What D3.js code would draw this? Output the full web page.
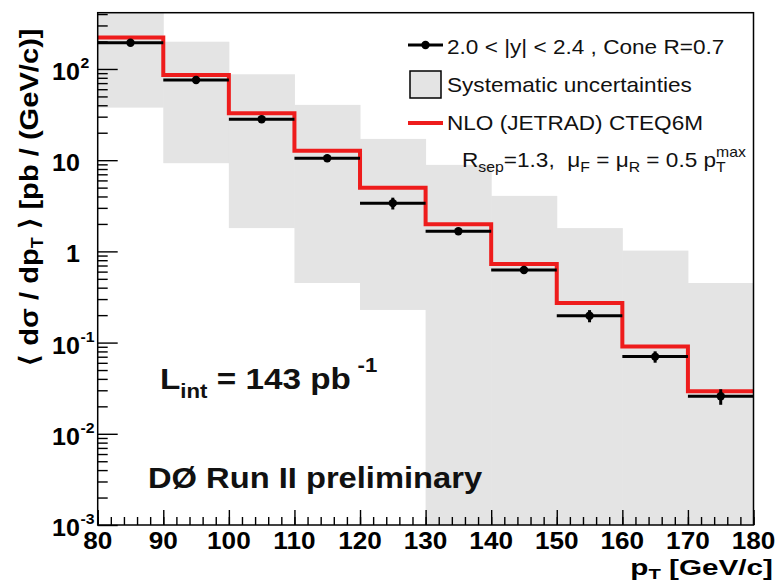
<!DOCTYPE html>
<html>
<head>
<meta charset="utf-8">
<script src="https://cdn.jsdelivr.net/npm/d3@7"></script>
<style>
  body { margin: 0; background: #fff; }
  svg { display: block; font-family: "Liberation Sans", Arial, Helvetica, sans-serif; }
  text { white-space: pre; }
</style>
</head>
<body>
<svg id="chart" width="781" height="583"></svg>
<script>
// pT bins [GeV/c]
const binLow  = [80, 90, 100, 110, 120, 130, 140, 150, 160, 170];
const binHigh = [90, 100, 110, 120, 130, 140, 150, 160, 170, 180];

// measured cross section <dsigma/dpT> [pb/(GeV/c)], 2.0 < |y| < 2.4
const xsec    = [194, 75.8, 28.1, 10.5, 3.38, 1.66, 0.624, 0.197, 0.0702, 0.0258];
const xsecErr = [4, 1.5, 0.6, 0.3, 0.5, 0.13, 0.03, 0.03, 0.010, 0.005];

// NLO (JETRAD) CTEQ6M prediction
const nlo = [222, 86, 32.7, 12.7, 5.0, 1.99, 0.726, 0.272, 0.0908, 0.0292];

// systematic uncertainty band (lower / upper edge)
const sysLow  = [37.7, 9.27, 1.80, 0.45, 0.228, 0.0001, 0.0001, 0.0001, 0.0001, 0.0001];
const sysHigh = [600, 199, 87.5, 40.4, 17.1, 8.88, 4.06, 1.80, 1.02, 0.45];

// axis ticks
const xTickValues = [80, 90, 100, 110, 120, 130, 140, 150, 160, 170, 180];
const xTickLabels = ["80", "90", "100", "110", "120", "130", "140", "150", "160", "170", "180"];
const yTickValues = [100, 10, 1, 0.1, 0.01, 0.001];
const yTickBase   = ["10", "10", "1", "10", "10", "10"];
const yTickExp    = ["2", "", "", "-1", "-2", "-3"];

const svg = d3.select("#chart");
const plotL = 97.7, plotR = 753.5, plotT = 12.7, plotB = 525;

const x = d3.scaleLinear().domain([80, 180]).range([plotL, plotR]);
const y = d3.scaleLog().domain([1e-3, 414]).range([plotB, plotT]).clamp(true);

// Widen a text horizontally about its anchor point (wide Helvetica look)
function widen(sel, s, rot) {
  const tx = +sel.attr("x"), ty = +sel.attr("y");
  sel.attr("x", 0).attr("y", 0)
    .attr("transform", `translate(${tx},${ty})${rot ? ` rotate(${rot})` : ""} scale(${s},1)`);
  return sel;
}

const bins = binLow.map((lo, i) => ({
  lo, hi: binHigh[i], c: (lo + binHigh[i]) / 2,
  v: xsec[i], e: xsecErr[i], t: nlo[i], sl: sysLow[i], sh: sysHigh[i]
}));

// systematic bands
svg.append("g").selectAll("rect").data(bins).join("rect")
  .attr("x", d => x(d.lo))
  .attr("width", d => x(d.hi) - x(d.lo) + 0.5)
  .attr("y", d => y(d.sh))
  .attr("height", d => y(d.sl) - y(d.sh))
  .attr("fill", "#e4e4e4");

// axes: ticks point into the frame
const gx = svg.append("g").attr("transform", `translate(0,${plotB})`);
gx.append("g").call(d3.axisBottom(x).tickValues(d3.range(80, 181, 2)).tickSize(-8).tickFormat(""));
gx.append("g").call(d3.axisBottom(x).tickValues(xTickValues).tickSize(-15).tickFormat(""));
gx.selectAll(".domain").remove();
gx.selectAll("line").attr("stroke", "#000").attr("stroke-width", 1.4);

const minorY = y.ticks().filter(v => Math.abs(Math.log10(v) - Math.round(Math.log10(v))) > 1e-6);
const gy = svg.append("g").attr("transform", `translate(${plotL},0)`);
gy.append("g").call(d3.axisLeft(y).tickValues(minorY).tickSize(-10).tickFormat(""));
gy.append("g").call(d3.axisLeft(y).tickValues(yTickValues).tickSize(-20).tickFormat(""));
gy.selectAll(".domain").remove();
gy.selectAll("line").attr("stroke", "#000").attr("stroke-width", 1.4);

// x tick labels
const xl = svg.append("g");
xTickValues.forEach((v, i) => {
  widen(xl.append("text")
    .attr("x", x(v)).attr("y", 549)
    .attr("text-anchor", "middle")
    .attr("font-size", 24).attr("font-weight", "bold")
    .text(xTickLabels[i]), 1.09);
});

// y tick labels (base + exponent)
const yl = svg.append("g");
yTickValues.forEach((v, i) => {
  widen(yl.append("text")
    .attr("x", 80).attr("y", y(v) + 11)
    .attr("text-anchor", "end")
    .attr("font-size", 23).attr("font-weight", "bold")
    .text(yTickBase[i]), 1.09);
  if (yTickExp[i]) {
    widen(yl.append("text")
      .attr("x", 80.5).attr("y", y(v) - 1)
      .attr("font-size", 14.5).attr("font-weight", "bold")
      .text(yTickExp[i]), 1.09);
  }
});

// axis titles
const xt = svg.append("text")
  .attr("x", 773).attr("y", 575)
  .attr("text-anchor", "end")
  .attr("font-size", 22).attr("font-weight", "bold");
xt.append("tspan").text("p");
xt.append("tspan").attr("font-size", 15).attr("dy", 4).text("T");
xt.append("tspan").attr("dy", -4).text(" [GeV/c]");
widen(xt, 1.35);

const yt = svg.append("text")
  .attr("x", 38).attr("y", 197)
  .attr("text-anchor", "middle")
  .attr("font-size", 26).attr("font-weight", "bold");
yt.append("tspan").text("\u27E8 d\u03C3 / dp");
yt.append("tspan").attr("font-size", 16).attr("dy", 5).text("T");
yt.append("tspan").attr("dy", -5).text(" \u27E9 [pb / (GeV/c)]");
widen(yt, 1.12, -90);

// NLO prediction as a step histogram
const stepPts = [];
bins.forEach(d => { stepPts.push([d.lo, d.t]); stepPts.push([d.hi, d.t]); });
svg.append("path")
  .attr("d", d3.line().x(p => x(p[0])).y(p => y(p[1]))(stepPts))
  .attr("fill", "none")
  .attr("stroke", "#ee1c1c")
  .attr("stroke-width", 4);

// data: horizontal bin bars, vertical stat errors, markers
const gd = svg.append("g");
gd.selectAll("line.h").data(bins).join("line").attr("class", "h")
  .attr("x1", d => x(d.lo)).attr("x2", d => x(d.hi))
  .attr("y1", d => y(d.v)).attr("y2", d => y(d.v))
  .attr("stroke", "#000").attr("stroke-width", 3);
gd.selectAll("line.v").data(bins).join("line").attr("class", "v")
  .attr("x1", d => x(d.c)).attr("x2", d => x(d.c))
  .attr("y1", d => y(d.v + d.e)).attr("y2", d => y(d.v - d.e))
  .attr("stroke", "#000").attr("stroke-width", 3);
gd.selectAll("circle").data(bins).join("circle")
  .attr("cx", d => x(d.c)).attr("cy", d => y(d.v))
  .attr("r", 4.2).attr("fill", "#000");

// frame
svg.append("rect")
  .attr("x", plotL).attr("y", plotT)
  .attr("width", plotR - plotL).attr("height", plotB - plotT)
  .attr("fill", "none").attr("stroke", "#000").attr("stroke-width", 1.5);

// legend
const legStretch = 1.13;
const lg = svg.append("g").attr("font-size", 20).attr("fill", "#111");
lg.append("line").attr("x1", 408).attr("x2", 443).attr("y1", 45).attr("y2", 45)
  .attr("stroke", "#000").attr("stroke-width", 3);
lg.append("circle").attr("cx", 425.5).attr("cy", 45).attr("r", 4.2).attr("fill", "#000");
widen(lg.append("text").attr("x", 447).attr("y", 54).text("2.0 < |y| < 2.4 , Cone R=0.7"), legStretch);

lg.append("rect").attr("x", 410).attr("y", 71).attr("width", 31).attr("height", 27)
  .attr("fill", "#e4e4e4").attr("stroke", "#000").attr("stroke-width", 1.5);
widen(lg.append("text").attr("x", 447).attr("y", 92).text("Systematic uncertainties"), legStretch);

lg.append("line").attr("x1", 408).attr("x2", 443).attr("y1", 123).attr("y2", 123)
  .attr("stroke", "#ee1c1c").attr("stroke-width", 4);
widen(lg.append("text").attr("x", 447).attr("y", 130).text("NLO (JETRAD) CTEQ6M"), legStretch);

const sc = lg.append("text").attr("x", 462).attr("y", 167);
sc.append("tspan").text("R");
sc.append("tspan").attr("font-size", 14).attr("dy", 5).text("sep");
sc.append("tspan").attr("dy", -5).text("=1.3,  \u03BC");
sc.append("tspan").attr("font-size", 14).attr("dy", 5).text("F");
sc.append("tspan").attr("dy", -5).text(" = \u03BC");
sc.append("tspan").attr("font-size", 14).attr("dy", 5).text("R");
sc.append("tspan").attr("dy", -5).text(" = 0.5 p");
const tT = sc.append("tspan").attr("font-size", 14).attr("dy", 5).text("T");
const tw = tT.node().getComputedTextLength();
sc.append("tspan").attr("font-size", 14).attr("dx", -tw).attr("dy", -15).text("max");
widen(sc, legStretch);

// luminosity and experiment labels
const lum = svg.append("text").attr("x", 160).attr("y", 389)
  .attr("font-size", 30).attr("font-weight", "bold").attr("fill", "#111");
lum.append("tspan").text("L");
lum.append("tspan").attr("font-size", 20).attr("dy", 9).text("int");
lum.append("tspan").attr("dy", -9).text(" = 143 pb");
lum.append("tspan").attr("font-size", 20).attr("dx", 6).attr("dy", -17).text("-1");
widen(lum, 1.11);

widen(svg.append("text").attr("x", 148).attr("y", 488)
  .attr("font-size", 30).attr("font-weight", "bold").attr("fill", "#111")
  .text("D\u00D8 Run II preliminary"), 1.09);
</script>
</body>
</html>
